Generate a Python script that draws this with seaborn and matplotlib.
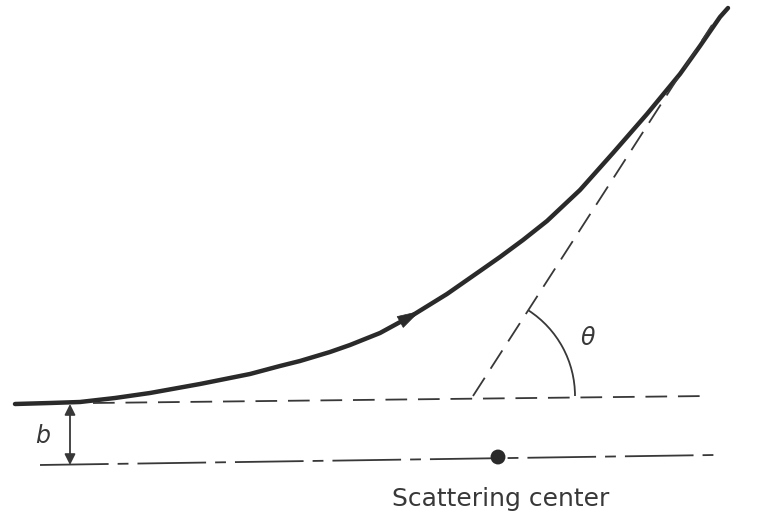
import numpy as np
import seaborn as sns
import matplotlib.pyplot as plt
from matplotlib.patches import Arc

# trayectoria (coordenadas en pixeles de la imagen, y hacia abajo)
curva_x = [15, 50, 80, 115, 150, 200, 250, 280, 300, 330, 350, 380, 413,
           447, 480, 500, 523, 547, 580, 613, 647, 680, 700, 720, 728]
curva_y = [404, 403, 402, 398, 393, 384, 374, 366, 361, 352, 345, 333, 315,
           294, 271, 257, 240, 221, 190, 153, 114, 74, 46, 17, 8]

# linea de incidencia (discontinua) y asintota
incid_x = [93, 708]
incid_y = [403, 396]
asint_x = [473, 712]
asint_y = [396, 25]

# eje por el centro de dispersion (raya-punto)
eje_x = [40, 714]
eje_y = [465, 455]
centro_x = [498]
centro_y = [457]

sns.set_style("white")
fig = plt.figure(figsize=(7.72, 5.17), dpi=100)
ax = fig.add_axes([0, 0, 1, 1])

sns.lineplot(x=curva_x, y=curva_y, ax=ax, color="#2a2a2a", linewidth=3.2,
             sort=False, estimator=None, solid_joinstyle="round",
             solid_capstyle="round")
ax.plot(incid_x, incid_y, color="#383838", linewidth=1.3, dashes=(12, 6))
ax.plot(asint_x, asint_y, color="#383838", linewidth=1.3, dashes=(12, 6))
ax.plot(eje_x, eje_y, color="#383838", linewidth=1.3, dashes=(38, 5, 6, 5))
sns.scatterplot(x=centro_x, y=centro_y, ax=ax, color="#2a2a2a", s=115,
                edgecolor="none", zorder=5)

# flecha sobre la trayectoria
ax.annotate("", xy=(420, 311), xytext=(375, 336),
            arrowprops=dict(arrowstyle="-|>,head_length=0.55,head_width=0.16",
                            color="#2a2a2a", lw=0.5, mutation_scale=28,
                            shrinkA=0, shrinkB=0))

# parametro de impacto b
ax.annotate("", xy=(70, 404), xytext=(70, 465),
            arrowprops=dict(arrowstyle="<|-|>", color="#383838", lw=1.3,
                            mutation_scale=16, shrinkA=0, shrinkB=0))
ax.text(43, 436, "b", fontsize=17, style="italic", color="#383838",
        ha="center", va="center")

# angulo de dispersion
ax.add_patch(Arc((473, 396), 204, 204, theta1=-57, theta2=0,
                 color="#383838", linewidth=1.3))
ax.text(588, 338, r"$\theta$", fontsize=17, color="#383838",
        ha="center", va="center")

ax.text(501, 499, "Scattering center", fontsize=18, color="#383838",
        ha="center", va="center")

ax.set_xlim(0, 772)
ax.set_ylim(517, 0)
ax.axis("off")
fig.savefig("out.png", dpi=100)
